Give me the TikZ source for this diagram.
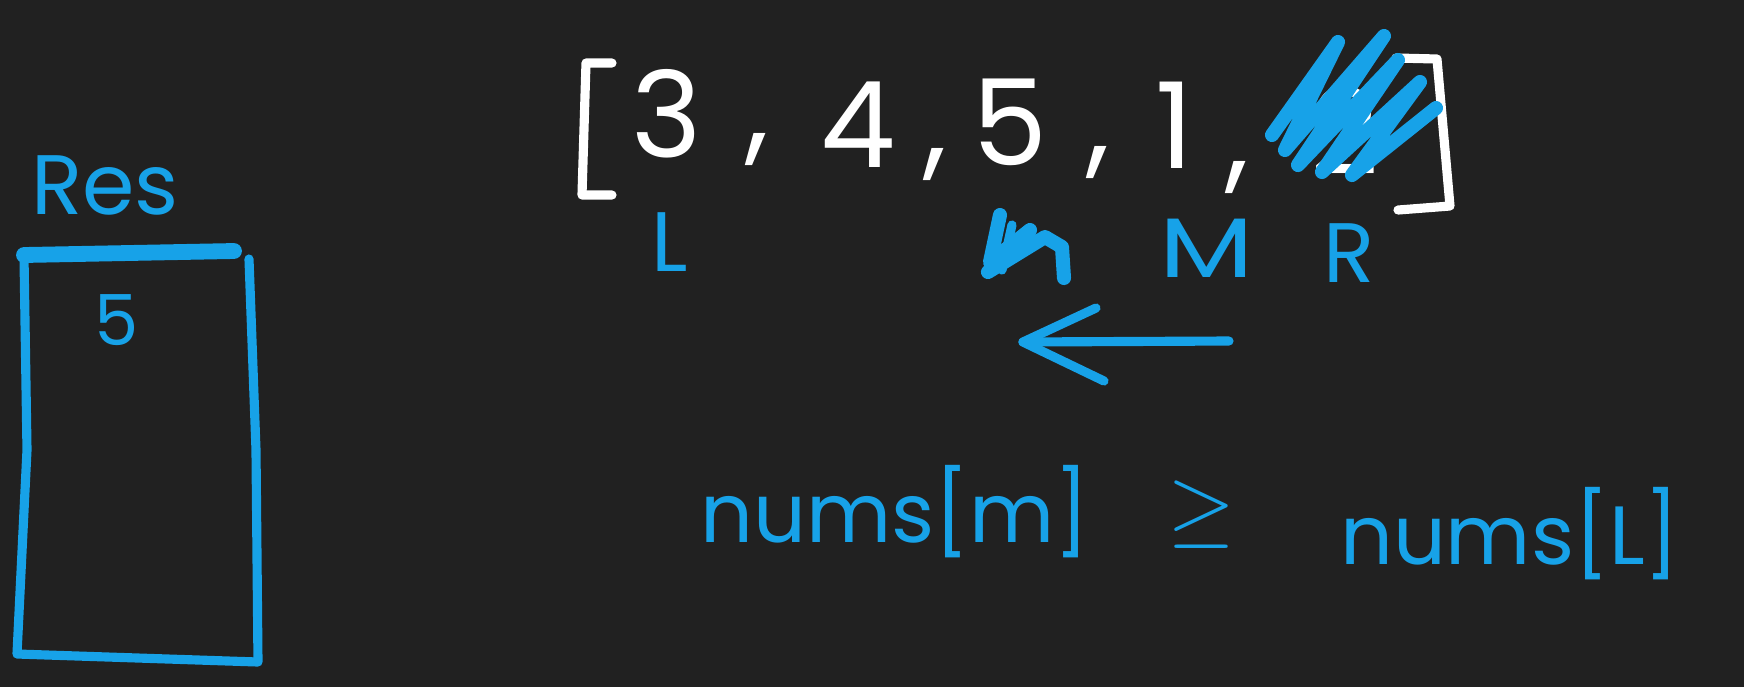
\documentclass[tikz,border=0pt]{standalone}
\usepackage{fontspec}
\setmainfont{Poppins}
\definecolor{board}{HTML}{212121}
\definecolor{ink}{HTML}{17A2E8}
\tikzset{
  chalk/.style={white, line width=2.6pt, line cap=round, line join=round},
  pen/.style={ink, line width=2.6pt, line cap=round, line join=round},
  digit/.style={white, inner sep=0pt, font=\fontsize{34}{40}\selectfont},
  tag/.style={ink, inner sep=0pt, font=\fontsize{24}{28}\selectfont},
  formula/.style={ink, inner sep=0pt, font=\fontsize{23.5}{28}\selectfont}
}
\begin{document}
\begin{tikzpicture}[x=0.01cm,y=-0.01cm]
\fill[board] (0,0) rectangle (1744,687);
\useasboundingbox (0,0) rectangle (1744,687);

% result stack
\node[tag] (res) at (105,185) {Res};
\draw[pen, line width=4.5pt] (24,255) -- (234,251);
\draw[pen] (24,256) -- (27,450) -- (17,654) -- (258,662) -- (256,450) -- (249,259);
\node[tag, font=\fontsize{20}{24}\selectfont] (top) at (117,320) {5};

% the array
\draw[chalk] (612,63) -- (586,63) -- (582,195) -- (612,195);
\draw[chalk] (1396,58) -- (1437,59) -- (1450,206) -- (1398,210);
\node[digit] (d3) at (667,114) {3};
\node[digit] (c1) at (757,150) {,};
\node[digit] (d4) at (858,125) {4};
\node[digit] (c2) at (935,165) {,};
\node[digit] (d5) at (1010,122) {5};
\node[digit] (c3) at (1098,163) {,};
\node[digit] (d1) at (1175,125) {1};
\node[digit] (c4) at (1237,178) {,};
\node[digit] (d2) at (1345,130) {2};
% crossed out
\draw[pen, line width=4pt] (1272,135) -- (1338,42) -- (1285,150) -- (1384,36)
  -- (1298,165) -- (1398,60) -- (1322,172) -- (1420,82) -- (1352,175)
  -- (1436,108);
\draw[pen, line width=4pt] (1000,215) -- (990,262) -- (1030,230) -- (988,272)
  -- (1045,237) -- (1062,247) -- (1064,278);
\draw[pen] (1012,225) -- (1002,270);

% pointers
\node[tag] (ptrL) at (670,242) {L};
\node[tag, xscale=1.3] (ptrM) at (1207,248) {M};
\node[tag] (ptrR) at (1349,253) {R};
\coordinate (tail) at (1229,341);
\coordinate (tip) at (1023,342);
\draw[pen] (tail) -- (tip);
\draw[pen] (1096,308) -- (tip) -- (1104,381);

% condition
\node[formula] (lhs) at (895,512) {nums[m]};
\node[formula] (geq) at (1202,515) {$\geq$};
\node[formula] (rhs) at (1510,534) {nums[L]};
\end{tikzpicture}
\end{document}
